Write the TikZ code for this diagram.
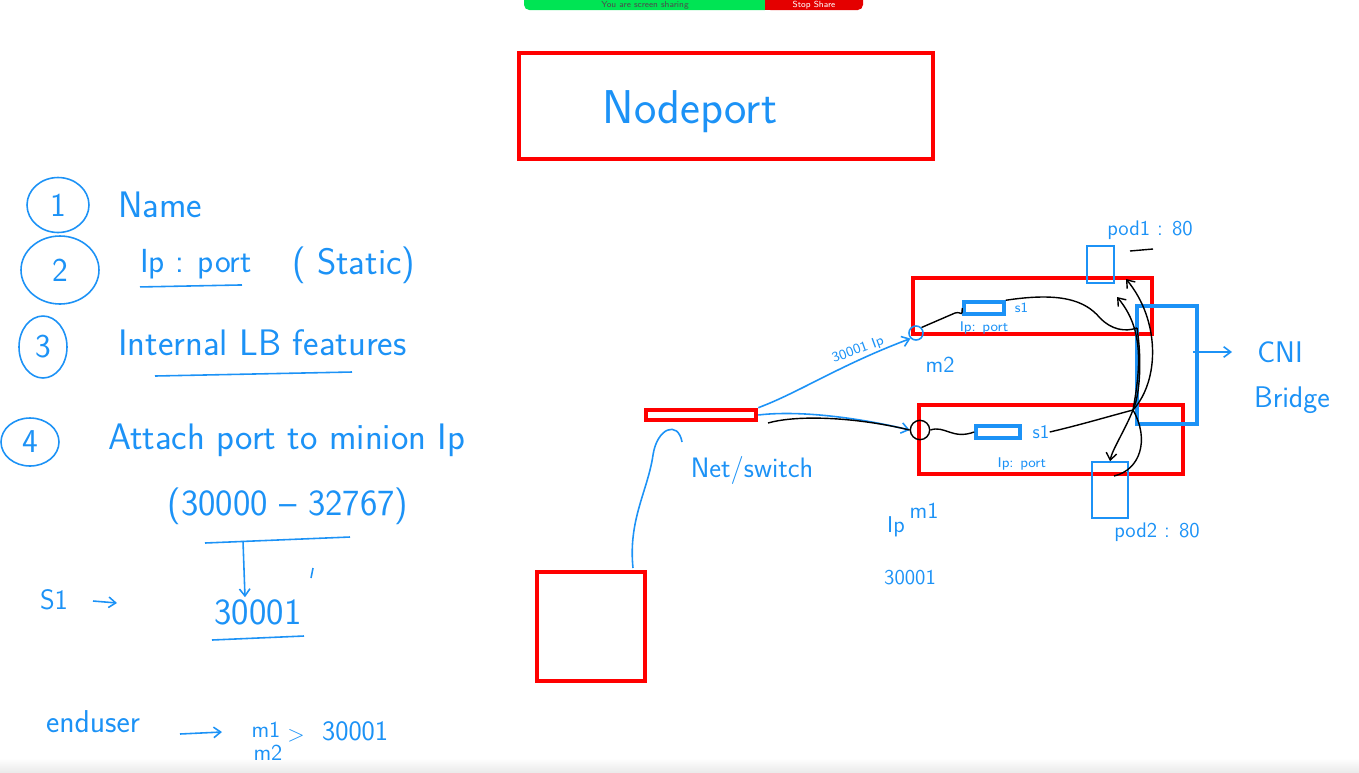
\documentclass[tikz,border=0pt]{standalone}
\usepackage{fontspec}
\usetikzlibrary{positioning,fit,shapes.geometric,arrows.meta}
\definecolor{penblue}{RGB}{28,146,246}
\definecolor{boxred}{RGB}{255,0,0}
\definecolor{sharegreen}{RGB}{0,228,84}
\definecolor{sharered}{RGB}{228,0,0}
\tikzset{
  redbox/.style={draw=boxred, line width=2.6pt, inner sep=0pt},
  bluebox/.style={draw=penblue, line width=2.4pt, inner sep=0pt},
  podbox/.style={draw=penblue, line width=0.9pt, inner sep=0pt},
  num/.style={draw=penblue, line width=0.9pt, ellipse, inner sep=0pt, text=penblue,
    font=\sffamily\fontsize{19}{19}\selectfont},
  hand/.style={text=penblue, inner sep=1pt, font=\sffamily\fontsize{21}{24}\selectfont},
  mid/.style={text=penblue, inner sep=1pt, font=\sffamily\fontsize{13}{15}\selectfont},
  tiny/.style={text=penblue, inner sep=0pt, font=\sffamily\fontsize{8}{9}\selectfont},
  pen/.style={draw=penblue, line width=0.9pt},
  ink/.style={draw=black, line width=0.8pt},
  tip/.style={-{Straight Barb[length=4pt,width=6pt]}},
}
\begin{document}
\begin{tikzpicture}[x=0.02cm, y=-0.02cm]
  \useasboundingbox (0,0) rectangle (1359,772);
  % screen share bar at the top edge
  \begin{scope}
    \clip (0,0) rectangle (1359,772);
    \fill[sharegreen, rounded corners=3pt] (524,-20) rectangle (770,10);
    \fill[sharered, rounded corners=3pt] (765,-20) rectangle (863,10);
    \fill[sharered] (765,-20) rectangle (775,10);
  \end{scope}
  \node[font=\sffamily\fontsize{5}{5}\selectfont, text=black!70, inner sep=0pt] (share) at (645,5) {You are screen sharing};
  \node[font=\sffamily\fontsize{5}{5}\selectfont, text=white, inner sep=0pt] (stop) at (814,5) {Stop Share};
  \fill[top color=white, bottom color=black!8, draw=none] (0,758) rectangle (1359,772);

  % title
  \node[redbox, fit={(519,53) (933,159)}] (np) {};
  \node[hand, font=\sffamily\fontsize{27}{29}\selectfont] (npt) at (690,112) {Nodeport};

  % list
  \node[num, minimum width=1.24cm, minimum height=1.1cm] (c1) at (58,205) {1};
  \node[hand, anchor=west] (name) at (116,205) {Name};
  \node[num, minimum width=1.56cm, minimum height=1.36cm] (c2) at (60,270) {2};
  \node[hand, anchor=west, font=\sffamily\fontsize{19}{22}\selectfont] (ipport) at (138,264) {Ip : port};
  \node[hand, anchor=west] (static) at (290,265) {( Static)};
  \draw[pen] (ipport.south west) ++(2,6) coordinate (u1) -- ++(102,-2) coordinate (u2);
  \node[num, minimum width=0.96cm, minimum height=1.24cm] (c3) at (43,347) {3};
  \node[hand, anchor=west] (lb) at (116,343) {Internal LB features};
  \draw[pen] (155,376) coordinate (u3) -- (352,372) coordinate (u4);
  \node[num, minimum width=1.16cm, minimum height=0.96cm] (c4) at (30,442) {4};
  \node[hand, anchor=west] (attach) at (106,440) {Attach port to minion Ip};
  \node[hand] (range) at (288,506) {(30000 -- 32767)};
  \draw[pen] (205,543) coordinate (u5) -- (350,537) coordinate (u6);
  \node[hand] (port) at (258,612) {30001};
  \draw[pen, tip] (243,541) -- (port.north -| 245,0);
  \draw[pen] (212,640) -- (304,636);
  \draw[pen] (313,568) -- (311,578);
  \node[mid, font=\sffamily\fontsize{16}{18}\selectfont] (s1) at (54,600) {S1};
  \draw[pen, tip] (93,601) -- (117,603);
  \node[hand, anchor=west, font=\sffamily\fontsize{18}{20}\selectfont] (user) at (44,722) {enduser};
  \node[mid] (um1) at (266,730) {m1};
  \node[mid] (um2) at (268,753) {m2};
  \node[mid] (brace) at (296,736) {>};
  \node[mid, font=\sffamily\fontsize{16}{18}\selectfont, anchor=west] (uport) at (320,731) {30001};
  \draw[pen, tip] (180,734) -- (222,732);

  % client and switch
  \node[redbox, fit={(537,572) (645,681)}] (client) {};
  \node[redbox, fit={(646,410) (756,420)}] (sw) {};
  \node[mid, font=\sffamily\fontsize{16}{18}\selectfont] (swt) at (752,470) {Net/switch};
  \draw[pen] (633,568) .. controls (628,520) and (648,490) .. (653,455)
    .. controls (657,428) and (678,420) .. (682,442);

  % nodes (machines)
  \node[redbox, fit={(913,278) (1152,334)}] (m2box) {};
  \node[redbox, fit={(919,405) (1183,474)}] (m1box) {};
  \node[mid] (m2t) at (940,365) {m2};
  \node[mid] (ipt) at (896,527) {Ip};
  \node[mid] (m1t) at (924,511) {m1};
  \node[mid, font=\sffamily\fontsize{12}{14}\selectfont] (m1port) at (910,578) {30001};

  % services
  \node[bluebox, line width=2pt, fit={(964,302) (1004,314)}] (s1a) {};
  \node[tiny, right=5pt of s1a] (s1at) {s1};
  \node[tiny, below=3pt of s1a] (s1ap) {Ip: port};
  \node[bluebox, line width=2pt, fit={(976,426) (1020,438)}] (s1b) {};
  \node[tiny, right=6pt of s1b, font=\sffamily\fontsize{11}{12}\selectfont] (s1bt) {s1};
  \node[tiny, below=10pt of s1b.south east, anchor=north] (s1bp) {Ip: port};

  % bridge and pods
  \node[bluebox, fit={(1137,306) (1197,424)}] (cni) {};
  \node[hand, font=\sffamily\fontsize{17}{20}\selectfont] (cnit) at (1280,352) {CNI};
  \node[hand, font=\sffamily\fontsize{17}{20}\selectfont] (bridge) at (1292,400) {Bridge};
  \draw[pen, tip] (cni.east |- 0,352) ++(-6,0) -- (1232,352);
  \node[podbox, fit={(1087,246) (1114,283)}] (pod1) {};
  \node[mid, font=\sffamily\fontsize{12}{14}\selectfont] (pod1t) at (1150,230) {pod1 : 80};
  \draw[ink] (1130,251) -- (1153,249);
  \node[podbox, fit={(1092,462) (1128,518)}] (pod2) {};
  \node[mid, font=\sffamily\fontsize{12}{14}\selectfont] (pod2t) at (1157,532) {pod2 : 80};

  % traffic
  \node[circle, pen, inner sep=0pt, minimum size=8pt] (p2) at (916,333) {};
  \node[circle, ink, inner sep=0pt, minimum size=11pt] (p1) at (920,430) {};
  \draw[pen, tip] (sw.north east) .. controls (800,392) and (840,365) .. (p2.south west);
  \node[tiny, rotate=20] (lbl) at (858,350) {30001 Ip};
  \draw[pen, tip] (sw.east) .. controls (800,410) and (860,418) .. (p1.west);
  \draw[ink] (768,423) .. controls (800,414) and (860,418) .. (p1.west);
  \draw[ink] (p2.north east) -- (955,313) .. controls (962,311) and (962,318) .. (s1a.west);
  \draw[ink] (p1.east) .. controls (945,425) and (952,440) .. (s1b.west);
  \coordinate (j1) at (1137,328);
  \coordinate (j2) at (1133,410);
  \draw[ink] (s1a.north east) .. controls (1060,292) and (1085,300) .. (1100,318)
    .. controls (1112,330) and (1125,332) .. (j1);
  \draw[ink, tip] (j1) .. controls (1142,360) and (1140,395) .. (j2)
    .. controls (1125,430) and (1112,450) .. (pod2.north -| 1110,0);
  \draw[ink] (s1bt.east) .. controls (1080,425) and (1110,416) .. (j2);
  \draw[ink, tip] (j2) .. controls (1160,380) and (1160,320) .. (1126,279);
  \draw[ink, tip] (j2) .. controls (1140,370) and (1145,330) .. (1117,297);
  \draw[ink] (j2) .. controls (1150,440) and (1140,470) .. (1114,476);
\end{tikzpicture}
\end{document}
